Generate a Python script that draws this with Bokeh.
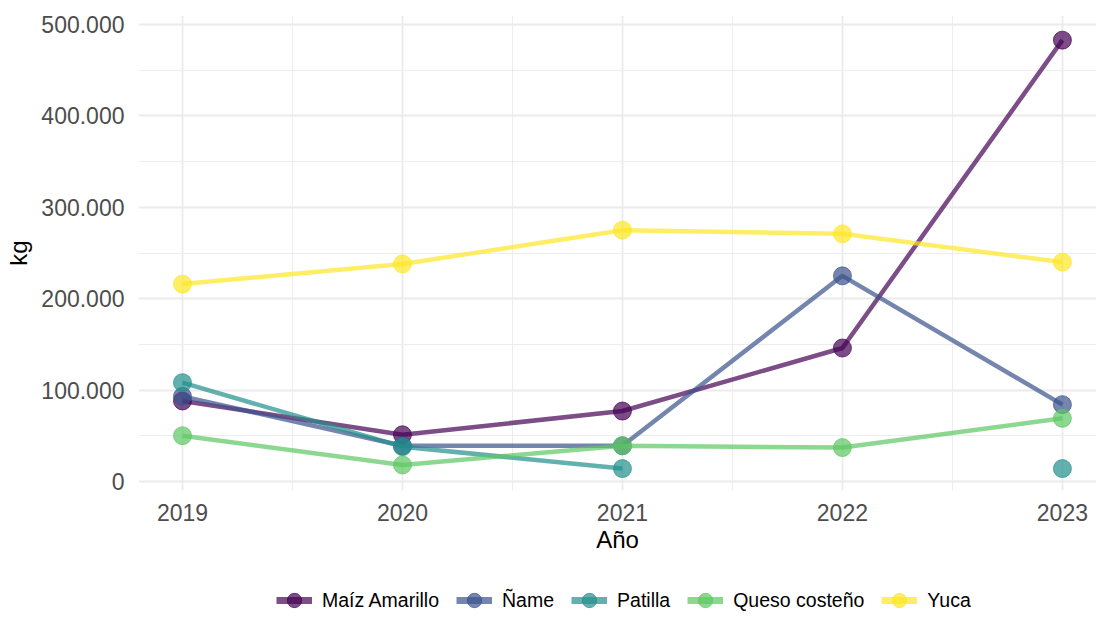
import math
from bokeh.plotting import figure
from bokeh.models import FixedTicker, Legend, LegendItem, Range1d
from bokeh.layouts import column
from bokeh.embed import file_html
from bokeh.resources import INLINE

years = [2019, 2020, 2021, 2022, 2023]
series_names = ["Maíz Amarillo", "Ñame", "Patilla", "Queso costeño", "Yuca"]
maiz = [88000, 51000, 77000, 146000, 483000]
name_ = [93000, 39000, 39000, 225000, 84000]
patilla = [108000, 38000, 14000, float("nan"), 14000]
queso = [50000, 18000, 39000, 37000, 69000]
yuca = [216000, 238000, 275000, 271000, 240000]
colors = ["#440154", "#3B528B", "#21908C", "#5DC863", "#FDE725"]

y_ticks = [0, 100000, 200000, 300000, 400000, 500000]
y_tick_labels = ["0", "100.000", "200.000", "300.000", "400.000", "500.000"]
x_tick_labels = ["2019", "2020", "2021", "2022", "2023"]

FONT = "Liberation Sans"

p = figure(width=1096, height=575, output_backend="svg", toolbar_location=None,
           x_range=Range1d(2018.8, 2023.155), y_range=Range1d(-10000, 510000),
           min_border_left=138, min_border_right=0, min_border_top=15,
           min_border_bottom=85)
p.outline_line_color = None
p.background_fill_color = "white"

data = [maiz, name_, patilla, queso, yuca]
for name, vals, c in zip(series_names, data, colors):
    p.line(years, vals, line_color=c, line_width=4.5, line_alpha=0.7)
    pts = [(x, v) for x, v in zip(years, vals) if not math.isnan(v)]
    p.scatter([a for a, _ in pts], [b for _, b in pts], size=18,
              fill_color=c, line_color=c, fill_alpha=0.7, line_alpha=0.7)

p.xaxis.ticker = FixedTicker(ticks=years, minor_ticks=[2019.5, 2020.5, 2021.5, 2022.5])
p.xaxis.major_label_overrides = {y: t for y, t in zip(years, x_tick_labels)}
p.yaxis.ticker = FixedTicker(ticks=y_ticks, minor_ticks=[50000, 150000, 250000, 350000, 450000])
p.yaxis.major_label_overrides = {v: t for v, t in zip(y_ticks, y_tick_labels)}

for ax in (p.xaxis[0], p.yaxis[0]):
    ax.axis_line_color = None
    ax.major_tick_line_color = None
    ax.minor_tick_line_color = None
    ax.major_tick_out = 0
    ax.major_tick_in = 0
    ax.major_label_text_font = FONT
    ax.major_label_text_font_size = "23px"
    ax.major_label_text_color = "#4D4D4D"
    ax.axis_label_text_font = FONT
    ax.axis_label_text_font_size = "24px"
    ax.axis_label_text_font_style = "normal"
    ax.axis_label_text_color = "black"

p.xaxis.axis_label = "Año"
p.yaxis.axis_label = "kg"
p.xaxis.major_label_standoff = 9
p.xaxis.axis_label_standoff = 2
p.yaxis.major_label_standoff = 10
p.yaxis.axis_label_standoff = 6

for g in (p.xgrid[0], p.ygrid[0]):
    g.grid_line_color = "#EBEBEB"
    g.grid_line_width = 1.8
    g.minor_grid_line_color = "#EBEBEB"
    g.minor_grid_line_width = 0.9

# legend panel (dummy renderers placed outside the visible range)
lf = figure(width=1096, height=43, output_backend="svg", toolbar_location=None,
            x_range=Range1d(0, 1), y_range=Range1d(0, 1),
            min_border_left=0, min_border_right=0, min_border_top=0,
            min_border_bottom=0)
lf.axis.visible = False
lf.grid.visible = False
lf.outline_line_color = None
items = []
for name, c in zip(series_names, colors):
    l = lf.line([-5, -4], [-5, -4], line_color=c, line_width=7, line_alpha=0.7)
    s = lf.scatter([-5], [-5], size=18, fill_color=c, line_color=c,
                   fill_alpha=0.7, line_alpha=0.7)
    items.append(LegendItem(label=name, renderers=[l, s]))

legend = Legend(items=items, orientation="horizontal",
                label_text_font=FONT, label_text_font_size="19.5px",
                label_text_color="black", glyph_width=36, glyph_height=36,
                spacing=17, label_standoff=10, border_line_color=None,
                background_fill_alpha=0, padding=0, margin=0,
                location=(138, 0))
lf.add_layout(legend)

layout = column(p, lf, spacing=0)
open("out.html", "w").write(file_html(layout, INLINE))
